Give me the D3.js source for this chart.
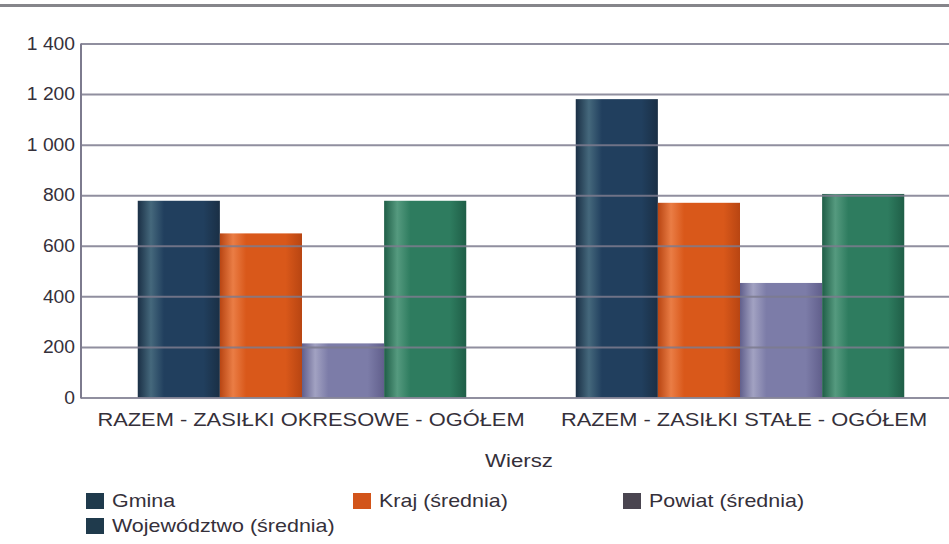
<!DOCTYPE html>
<html>
<head>
<meta charset="utf-8">
<script src="https://cdn.jsdelivr.net/npm/d3@7"></script>
<style>
  body { margin: 0; background: #fff; }
  text { font-family: "Liberation Sans", Arial, sans-serif; fill: #35303a; }
</style>
</head>
<body>
<div id="chart"></div>
<script>
// data
var categories = ["RAZEM - ZASIŁKI OKRESOWE - OGÓŁEM", "RAZEM - ZASIŁKI STAŁE - OGÓŁEM"];
var series = ["Gmina", "Kraj (średnia)", "Powiat (średnia)", "Województwo (średnia)"];
var gmina = [778, 1180];
var kraj = [649, 770];
var powiat = [214, 453];
var wojewodztwo = [778, 805];
var yTicks = [0, 200, 400, 600, 800, 1000, 1200, 1400];

var values = [gmina, kraj, powiat, wojewodztwo];

var svgWidth = 949;
var svgHeight = 544;
var stretch = 1.15; // the scanned lettering is wider than Arial

// bar colours: edge, mid, highlight
var barColors = [
  ["#1a2f45", "#213f5e", "#45687c"],
  ["#b84512", "#d9581a", "#ea7d45"],
  ["#615f8c", "#7c7ca8", "#a2a2c2"],
  ["#1f5e47", "#2e7c5f", "#559a7f"]
];
var legendColors = ["#1f3a4c", "#d2541a", "#4a4550", "#1f3a4c"];

var svg = d3.select("#chart")
  .append("svg")
  .attr("width", svgWidth)
  .attr("height", svgHeight);

// top rule
svg.append("rect")
  .attr("x", 0).attr("y", 4)
  .attr("width", svgWidth).attr("height", 3)
  .attr("fill", "#85858a");

var defs = svg.append("defs");
barColors.forEach(function(c, i) {
  var g = defs.append("linearGradient")
    .attr("id", "grad" + i)
    .attr("x1", "0%").attr("x2", "100%")
    .attr("y1", "0%").attr("y2", "0%");
  g.append("stop").attr("offset", "0%").attr("stop-color", c[0]);
  g.append("stop").attr("offset", "16%").attr("stop-color", c[2]);
  g.append("stop").attr("offset", "32%").attr("stop-color", c[1]);
  g.append("stop").attr("offset", "80%").attr("stop-color", c[1]);
  g.append("stop").attr("offset", "100%").attr("stop-color", c[0]);
});

var x0 = d3.scaleBand()
  .domain(categories)
  .range([83, 959])
  .paddingInner(0.25)
  .paddingOuter(0.125);

var x1 = d3.scaleBand()
  .domain(series)
  .range([0, x0.bandwidth()]);

var y = d3.scaleLinear()
  .domain([0, 1400])
  .range([397.5, 43.5]);

var plLocale = d3.formatLocale({ decimal: ",", thousands: " ", grouping: [3], currency: ["", " zł"] });
var fmt = plLocale.format(",d");

// bars
var groups = svg.append("g").selectAll("g")
  .data(categories)
  .enter()
  .append("g")
  .attr("transform", d => `translate(${x0(d)},0)`);

groups.selectAll("rect")
  .data((d, ci) => series.map((s, si) => ({ s: s, si: si, v: values[si][ci] })))
  .enter()
  .append("rect")
  .attr("x", d => x1(d.s))
  .attr("y", d => y(d.v))
  .attr("width", x1.bandwidth())
  .attr("height", d => y(0) - y(d.v))
  .attr("fill", d => `url(#grad${d.si})`);

// gridlines drawn over the bars
var yAxis = d3.axisLeft(y)
  .tickValues(yTicks)
  .tickSize(-(svgWidth - 81))
  .tickPadding(6)
  .tickFormat(fmt);

var yAxisG = svg.append("g")
  .attr("transform", "translate(81,0)")
  .call(yAxis);

yAxisG.select(".domain").remove();
yAxisG.selectAll(".tick line")
  .attr("stroke", "#7d7b8e")
  .attr("stroke-opacity", 0.85)
  .attr("stroke-width", 2);
yAxisG.selectAll(".tick text")
  .attr("font-size", 18)
  .attr("x", 0)
  .attr("transform", "translate(-6,0) scale(1.07,1)")
  .style("fill", "#35303a");

// vertical axis line
svg.append("line")
  .attr("x1", 81).attr("x2", 81)
  .attr("y1", y(1400)).attr("y2", y(0) + 1)
  .attr("stroke", "#7d7b8e")
  .attr("stroke-width", 2);

// category labels
svg.append("g").selectAll("text")
  .data(categories)
  .enter()
  .append("text")
  .attr("transform", (d, i) => `translate(${x0(d) + x0.bandwidth() / 2 + (i === 0 ? 9 : 4)},426) scale(${stretch},1)`)
  .attr("text-anchor", "middle")
  .attr("font-size", 19)
  .text(d => d);

// axis title
svg.append("text")
  .attr("transform", `translate(519,467) scale(${stretch + 0.02},1)`)
  .attr("text-anchor", "middle")
  .attr("font-size", 19)
  .text("Wiersz");

// legend
var legendPos = [[86, 507], [353, 507], [623, 507], [86, 532]];
var legend = svg.append("g").selectAll("g")
  .data(series)
  .enter()
  .append("g")
  .attr("transform", (d, i) => `translate(${legendPos[i][0]},${legendPos[i][1]})`);

legend.append("rect")
  .attr("x", 0).attr("y", -14)
  .attr("width", 18).attr("height", 16)
  .attr("fill", (d, i) => legendColors[i]);

legend.append("text")
  .attr("transform", `translate(26,0) scale(${stretch - 0.02},1)`)
  .attr("font-size", 19)
  .text(d => d);
</script>
</body>
</html>
